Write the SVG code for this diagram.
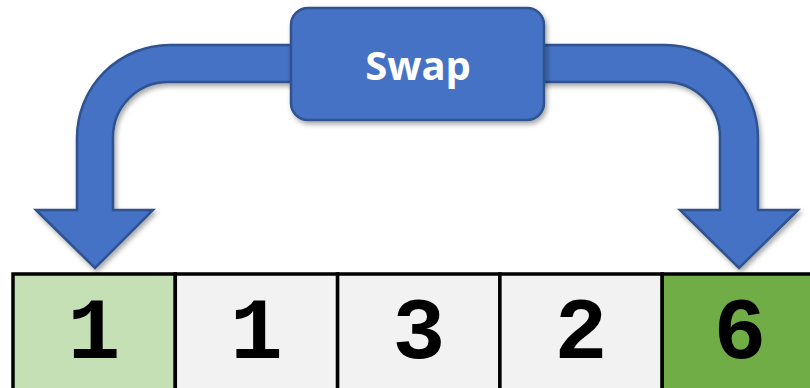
<svg xmlns="http://www.w3.org/2000/svg" width="810" height="388" viewBox="0 0 810 388">
<defs>
<filter id="sh" x="-10%" y="-10%" width="130%" height="130%">
<feDropShadow dx="2" dy="3" stdDeviation="2.5" flood-color="#000" flood-opacity="0.35"/>
</filter>
<style>
.cell{stroke:#000;stroke-width:3.5}
.num{font-family:"Liberation Mono","Courier New",monospace;font-weight:bold;font-size:88px;text-anchor:middle;fill:#000}
.blue{fill:#4472C4;stroke:#2F528F;stroke-width:2.5}
.lbl{font-family:"Open Sans","Liberation Sans",sans-serif;font-weight:bold;font-size:40px;fill:#fff;text-anchor:middle}
</style>
</defs>
<g id="connectors">
<path class="blue" filter="url(#sh)" d="M36,210 L95,268 L153,210 L113,210 L113,137 A55,55 0 0 1 168,82 L665,82 A55,55 0 0 1 720,137 L720,210 L680,210 L739,268 L798,210 L758,210 L758,138 A93,93 0 0 0 665,45 L170,45 A93,93 0 0 0 77,138 L77,210 Z"/>
</g>
<g id="swap">
<rect class="blue" filter="url(#sh)" x="291" y="8" width="253" height="112" rx="17"/>
<text class="lbl" x="418" y="80">Swap</text>
</g>
<g id="cell0"><rect class="cell" x="13" y="274" width="162.3" height="130" fill="#C5E0B4"/><text class="num" x="94" y="358">1</text></g>
<g id="cell1"><rect class="cell" x="175.3" y="274" width="162.3" height="130" fill="#F2F2F2"/><text class="num" x="256.5" y="358">1</text></g>
<g id="cell2"><rect class="cell" x="337.6" y="274" width="162.3" height="130" fill="#F2F2F2"/><text class="num" x="418.8" y="358">3</text></g>
<g id="cell3"><rect class="cell" x="499.9" y="274" width="162.3" height="130" fill="#F2F2F2"/><text class="num" x="581" y="358">2</text></g>
<g id="cell4"><rect class="cell" x="662.2" y="274" width="162.3" height="130" fill="#70AD47"/><text class="num" x="740" y="358">6</text></g>
</svg>
